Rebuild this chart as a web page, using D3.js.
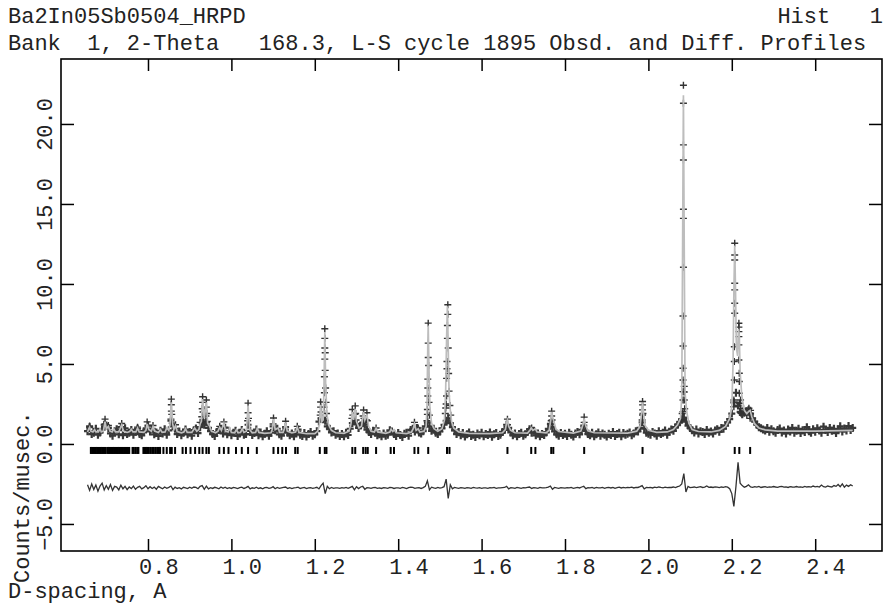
<!DOCTYPE html>
<html>
<head>
<meta charset="utf-8">
<script src="https://cdn.jsdelivr.net/npm/d3@7"></script>
<style>
body { margin: 0; background: #fff; }
svg text { font-family: "Liberation Mono", "DejaVu Sans Mono", monospace; font-size: 22px; fill: #222; white-space: pre; }
</style>
</head>
<body>
<svg width="887" height="616"></svg>
<script>
// labels
const titleLeft = "Ba2In05Sb0504_HRPD";
const titleRight = "Hist   1";
const subtitle = "Bank  1, 2-Theta   168.3, L-S cycle 1895 Obsd. and Diff. Profiles";
const xLabel = "D-spacing, A";
const yLabel = "Counts/musec.";
const xTicks = [0.8, 1.0, 1.2, 1.4, 1.6, 1.8, 2.0, 2.2, 2.4];
const yTicks = [-5, 0, 5, 10, 15, 20];

// observed scan, one reading every 0.005 A from 0.655 A
const scanStart = 0.655, scanStep = 0.005;
const obsScan = [
  0.80,1.05,0.62,0.70,0.95,0.58,0.72,0.90,1.20,1.15,
  1.00,0.66,0.52,0.80,0.92,0.60,1.05,0.55,0.98,0.62,
  0.70,0.88,0.58,0.76,0.95,0.62,0.54,0.80,0.90,1.15,
  0.78,0.95,0.60,0.72,0.50,0.82,0.66,0.92,0.58,0.85,
  1.45,1.10,0.95,0.62,0.78,0.55,0.70,0.90,0.60,0.74,
  0.52,0.86,0.96,0.68,1.05,1.30,1.20,1.35,1.00,0.80,
  0.62,0.50,0.74,0.88,0.95,0.66,1.02,0.60,0.78,0.55,
  0.70,0.82,0.50,0.66,0.88,0.58,0.62,1.20,0.82,0.56,
  0.68,0.90,0.55,0.72,0.48,0.64,0.80,0.52,0.70,1.10,
  0.85,0.95,0.60,0.52,0.78,1.05,0.70,0.55,0.66,0.48,
  0.72,0.90,0.58,0.50,0.68,0.46,0.62,0.74,0.52,0.60,
  0.80,1.40,1.60,1.55,1.45,1.10,0.95,0.72,0.80,0.58,
  0.66,0.50,0.62,0.48,0.70,0.56,0.95,1.30,1.40,1.25,
  1.00,1.15,1.30,1.20,0.90,0.75,0.62,0.82,0.70,0.55,
  0.60,0.48,0.66,0.52,0.58,0.85,0.78,0.62,0.50,0.68,
  0.56,0.44,0.64,0.70,0.52,0.88,0.95,0.78,1.00,0.72,
  0.66,0.80,1.10,1.35,1.10,0.82,0.95,0.70,0.62,0.78,
  0.98,1.20,1.45,1.60,1.30,1.05,0.85,0.62,0.74,0.55,
  0.68,0.46,0.60,0.72,0.50,0.58,0.44,0.66,0.54,0.70,
  0.48,0.62,0.56,0.72,0.45,0.60,0.68,0.50,0.58,0.74,
  0.88,1.20,1.00,0.72,0.55,0.66,0.48,0.62,0.70,0.52,
  0.60,0.75,0.92,0.70,0.82,0.54,0.66,0.48,0.62,0.56,
  0.72,0.95,1.25,1.05,0.78,0.60,0.52,0.68,0.56,0.64,
  0.50,0.70,0.58,0.46,0.66,0.74,0.60,0.88,1.15,0.82,
  0.62,0.54,0.70,0.48,0.60,0.72,0.52,0.66,0.58,0.46,
  0.64,0.56,0.74,0.50,0.62,0.70,0.48,0.68,0.58,0.64,
  0.72,0.55,0.66,0.80,0.78,1.00,1.35,0.95,0.70,0.64,
  0.58,0.74,0.66,0.52,0.80,0.62,0.70,0.84,0.58,0.76,
  0.90,0.82,1.05,1.20,1.35,1.55,1.65,1.40,1.15,1.00,
  0.86,0.72,0.90,0.66,0.80,0.74,0.62,0.88,0.70,0.78,
  0.66,0.84,0.92,0.76,1.00,0.95,1.15,1.35,1.55,1.90,
  2.60,3.20,2.40,2.00,1.85,1.95,2.05,2.10,1.90,1.60,
  1.40,1.20,1.05,0.98,0.90,0.84,1.00,0.76,0.92,0.80,
  0.70,0.88,0.96,0.72,0.84,0.66,0.90,0.78,1.00,0.70,
  0.82,0.95,0.68,0.86,0.74,1.05,0.80,0.70,0.92,0.76,
  0.98,0.84,0.70,1.08,0.88,0.74,1.00,0.82,0.95,0.68,
  0.90,1.10,0.78,0.96,0.84,1.12,0.88,1.00
];

// difference (obs - calc) on the same scan points
const diffScan = [
  0.20,-0.15,0.25,-0.10,0.18,-0.20,0.12,0.30,-0.12,0.15,
  -0.08,0.22,-0.15,0.10,0.05,-0.12,0.18,-0.05,0.10,-0.10,
  0.06,-0.04,0.12,-0.08,0.04,0.10,-0.06,0.02,0.14,-0.05,
  0.08,-0.03,0.05,-0.08,0.10,0.02,-0.05,0.06,-0.02,0.04,
  0.12,-0.10,0.05,-0.03,0.02,-0.06,0.04,0.00,-0.04,0.05,
  -0.02,0.06,0.03,-0.05,0.10,0.15,-0.08,0.12,-0.06,0.02,
  -0.03,0.04,0.00,-0.05,0.06,-0.02,0.05,-0.04,0.02,-0.03,
  0.03,0.00,-0.04,0.02,0.05,-0.03,0.02,0.10,-0.06,0.01,
  -0.02,0.05,-0.03,0.01,-0.05,0.02,0.04,-0.02,0.00,0.08,
  -0.05,0.03,-0.02,0.01,0.04,0.06,-0.03,0.02,-0.04,0.00,
  0.02,0.05,-0.03,0.00,0.03,-0.04,0.01,0.02,-0.02,0.00,
  0.04,-0.06,0.15,0.30,-0.35,0.10,-0.05,0.03,-0.02,0.01,
  0.00,-0.03,0.02,-0.01,0.03,-0.02,0.04,0.10,-0.12,0.08,
  -0.04,0.06,0.10,-0.08,0.02,0.00,-0.03,0.02,0.04,-0.02,
  0.01,-0.03,0.02,0.00,-0.02,0.04,0.02,-0.03,0.01,0.00,
  -0.02,0.03,0.00,-0.04,0.02,0.05,0.03,-0.02,0.00,0.02,
  -0.03,0.02,0.10,0.45,-0.12,0.05,0.00,-0.02,0.03,-0.01,
  0.02,0.08,0.55,-0.65,0.20,-0.05,0.03,0.00,-0.02,0.02,
  0.00,-0.03,0.02,0.01,-0.02,0.03,0.00,-0.01,0.02,-0.02,
  0.01,0.00,-0.03,0.02,0.00,0.03,-0.02,0.01,0.00,0.02,
  0.03,0.10,-0.06,0.02,0.00,-0.02,0.03,0.01,-0.02,0.02,
  0.00,0.03,0.06,-0.03,0.02,0.00,-0.02,0.03,0.01,0.00,
  0.02,0.05,0.12,-0.08,0.03,0.00,-0.02,0.02,0.01,-0.01,
  0.02,0.00,0.03,-0.02,0.01,0.04,0.00,0.06,0.10,-0.04,
  0.02,0.00,0.03,-0.02,0.04,0.01,0.00,0.03,-0.02,0.02,
  0.03,0.00,0.04,-0.02,0.02,0.05,0.00,0.03,0.01,0.04,
  0.02,0.05,0.00,0.04,0.03,0.08,0.15,-0.06,0.03,0.02,
  0.04,0.00,0.05,0.02,0.06,0.03,0.01,0.05,0.02,0.04,
  0.03,0.06,0.02,0.08,0.12,0.25,0.90,-0.25,0.10,0.02,
  0.04,0.06,0.02,0.05,0.08,0.03,0.05,0.12,0.04,0.06,
  0.03,0.07,0.05,0.02,0.06,0.04,0.08,0.05,-0.05,-0.35,
  -1.15,0.10,1.60,0.30,0.15,0.05,0.10,0.20,0.06,0.04,
  0.08,0.05,0.10,0.03,0.06,0.08,0.04,0.07,0.05,0.09,
  0.06,0.04,0.08,0.10,0.05,0.07,0.03,0.08,0.06,0.05,
  0.09,0.05,0.07,0.04,0.10,0.06,0.08,0.05,0.12,0.07,
  0.10,0.06,0.18,0.08,0.05,0.12,0.09,0.06,0.15,0.10,
  0.22,0.08,0.25,0.05,0.18,0.10,0.20,0.12
];
const diffOffset = -2.75;

// observed readings on the peak flanks [d, counts]
const obsPeaks = [
  [0.660,1.12],[0.697,1.55],[0.697,1.25],[0.705,1.15],[0.737,1.28],[0.775,1.05],[0.798,1.38],[0.812,1.15],
  [0.855,1.55],[0.856,2.05],[0.856,2.45],[0.856,2.80],[0.857,1.85],[0.858,1.30],
  [0.866,1.20],[0.925,1.35],[0.929,1.70],[0.930,2.20],[0.931,2.60],[0.931,2.95],[0.932,2.00],[0.933,1.50],
  [0.939,1.75],[0.940,2.30],[0.940,2.75],[0.941,1.90],[0.942,1.40],
  [0.972,1.10],[0.982,1.38],[1.039,1.45],[1.040,1.95],[1.040,2.55],[1.041,1.60],
  [1.100,1.25],[1.101,1.62],[1.130,1.42],[1.158,1.10],
  [1.213,1.80],[1.214,2.30],[1.214,2.62],[1.215,2.00],
  [1.222,2.30],[1.223,3.20],[1.223,4.20],[1.224,5.30],[1.224,6.00],[1.224,6.60],[1.224,7.20],
  [1.225,5.70],[1.225,4.60],[1.226,3.50],[1.227,2.60],[1.228,1.90],
  [1.289,1.60],[1.290,2.15],[1.291,1.80],[1.296,1.85],[1.297,2.38],[1.298,1.90],[1.299,1.50],
  [1.316,1.75],[1.317,2.12],[1.318,1.60],[1.324,1.50],[1.325,1.95],[1.326,1.45],
  [1.347,1.00],[1.439,1.35],[1.448,1.00],
  [1.469,1.45],[1.470,1.85],[1.470,2.15],[1.471,3.00],[1.471,3.50],[1.471,4.05],[1.472,5.40],
  [1.472,6.30],[1.472,7.55],[1.473,4.90],[1.474,2.60],[1.475,1.80],
  [1.513,1.90],[1.514,2.25],[1.515,2.50],[1.516,3.00],[1.516,4.10],[1.517,4.70],[1.517,5.15],
  [1.518,6.60],[1.518,7.40],[1.519,8.10],[1.519,8.70],[1.520,6.00],[1.521,4.40],[1.522,3.30],
  [1.524,2.40],[1.526,1.80],
  [1.662,1.20],[1.662,1.55],[1.720,1.00],[1.767,1.45],[1.768,1.75],[1.768,2.05],[1.769,1.50],
  [1.846,1.35],[1.846,1.68],
  [1.985,1.50],[1.986,1.81],[1.986,2.13],[1.986,2.44],[1.986,2.65],[1.987,1.90],
  [2.080,1.50],[2.081,1.90],[2.083,2.02],[2.083,2.75],[2.083,3.27],[2.083,4.00],[2.083,4.73],
  [2.083,6.12],[2.083,8.00],[2.084,11.04],[2.084,14.10],[2.084,14.67],[2.084,17.75],[2.084,18.69],
  [2.084,21.29],[2.084,22.42],[2.086,3.60],[2.086,3.25],[2.086,2.75],[2.087,2.20],
  [2.205,2.33],[2.205,2.75],[2.206,4.00],[2.206,5.15],[2.206,6.08],[2.207,8.17],[2.207,8.79],
  [2.207,9.63],[2.207,10.04],[2.207,11.50],[2.207,11.81],[2.207,12.54],
  [2.217,7.54],[2.217,7.30],[2.217,7.02],[2.217,6.71],[2.217,6.19],[2.217,5.25],[2.218,4.42],
  [2.218,3.90],[2.218,3.17],[2.219,2.54],
  [2.221,2.75],[2.221,2.23],[2.222,1.92],[2.228,2.20],[2.236,1.80],[2.241,2.23],[2.242,1.92],
  [2.244,1.60],[2.245,2.10]
];

// calculated profile [d, counts]
const calcProfile = [
  [0.655,0.75],[0.658,0.95],[0.660,1.05],[0.663,0.80],[0.668,0.75],[0.672,0.90],[0.675,0.75],
  [0.681,0.75],[0.685,0.95],[0.688,0.75],[0.693,0.80],[0.697,1.40],[0.700,0.95],[0.705,1.10],
  [0.709,0.80],[0.714,0.75],[0.718,0.95],[0.722,0.75],[0.730,0.75],[0.737,1.20],[0.741,0.80],
  [0.750,0.72],[0.756,0.78],[0.760,0.92],[0.764,0.75],[0.771,0.75],[0.775,1.00],[0.779,0.75],
  [0.790,0.72],[0.795,0.85],[0.798,1.25],[0.802,0.90],[0.808,0.80],[0.812,1.10],[0.816,0.80],
  [0.825,0.72],[0.830,0.90],[0.834,0.72],[0.841,0.75],[0.845,1.00],[0.850,0.85],[0.853,1.30],
  [0.856,2.60],[0.859,1.30],[0.862,0.90],[0.866,1.15],[0.870,0.78],[0.880,0.70],[0.886,0.75],
  [0.890,0.95],[0.894,0.72],[0.905,0.72],[0.912,1.00],[0.917,0.80],[0.922,0.90],[0.925,1.25],
  [0.928,1.40],[0.931,2.80],[0.935,1.60],[0.940,2.60],[0.943,1.30],[0.948,1.10],[0.952,0.80],
  [0.962,0.70],[0.968,0.80],[0.972,1.05],[0.976,0.85],[0.982,1.30],[0.986,0.80],[0.992,0.75],
  [0.996,1.00],[1.000,0.72],[1.008,0.70],[1.012,0.90],[1.016,0.70],[1.022,0.72],[1.026,0.95],
  [1.030,0.72],[1.036,0.80],[1.040,2.40],[1.044,0.90],[1.050,0.70],[1.058,0.72],[1.062,1.00],
  [1.066,0.72],[1.080,0.66],[1.095,0.70],[1.098,0.90],[1.101,1.55],[1.105,0.90],[1.112,1.00],
  [1.116,0.72],[1.124,0.72],[1.127,0.95],[1.130,1.35],[1.134,0.80],[1.145,0.70],[1.154,0.75],
  [1.158,1.05],[1.162,0.72],[1.180,0.64],[1.200,0.65],[1.207,0.80],[1.211,1.20],[1.214,2.45],
  [1.217,1.40],[1.220,1.50],[1.222,3.50],[1.224,7.00],[1.226,3.80],[1.229,1.90],[1.233,1.20],
  [1.240,0.85],[1.250,0.70],[1.270,0.66],[1.282,0.80],[1.287,1.30],[1.290,2.00],[1.293,1.50],
  [1.297,2.20],[1.300,1.40],[1.306,1.00],[1.312,1.10],[1.317,2.00],[1.320,1.50],[1.325,1.85],
  [1.329,1.10],[1.335,0.80],[1.343,0.75],[1.347,0.98],[1.351,0.75],[1.370,0.66],[1.380,0.75],
  [1.383,0.92],[1.387,0.78],[1.391,0.88],[1.395,0.70],[1.420,0.65],[1.432,0.75],[1.436,0.95],
  [1.439,1.25],[1.443,0.85],[1.448,0.95],[1.452,0.75],[1.462,0.80],[1.467,1.10],[1.469,2.20],
  [1.471,6.20],[1.472,7.40],[1.474,4.50],[1.476,2.30],[1.480,1.30],[1.486,0.95],[1.495,0.80],
  [1.505,0.95],[1.511,1.50],[1.514,3.50],[1.516,6.50],[1.518,8.60],[1.520,6.00],[1.522,3.20],
  [1.525,2.10],[1.528,1.40],[1.533,1.00],[1.545,0.75],[1.570,0.66],[1.620,0.65],[1.650,0.70],
  [1.657,0.90],[1.660,1.35],[1.662,1.50],[1.665,1.10],[1.670,0.85],[1.680,0.70],[1.710,0.68],
  [1.716,0.85],[1.719,1.00],[1.723,0.85],[1.729,0.95],[1.733,0.75],[1.755,0.70],[1.762,0.85],
  [1.766,1.50],[1.768,2.00],[1.771,1.60],[1.774,1.35],[1.778,0.95],[1.785,0.78],[1.820,0.68],
  [1.838,0.80],[1.843,1.20],[1.846,1.60],[1.849,1.20],[1.855,0.82],[1.870,0.70],[1.950,0.68],
  [1.972,0.80],[1.980,1.10],[1.984,2.00],[1.986,2.60],[1.988,2.00],[1.992,1.15],[2.000,0.85],
  [2.020,0.72],[2.045,0.75],[2.060,0.90],[2.070,1.20],[2.077,1.60],[2.080,3.00],[2.082,12.00],
  [2.084,21.80],[2.086,12.00],[2.088,3.20],[2.092,2.00],[2.097,1.30],[2.105,0.90],[2.120,0.78],
  [2.150,0.75],[2.170,0.85],[2.185,1.10],[2.195,1.60],[2.200,2.30],[2.203,5.00],[2.205,9.50],
  [2.207,12.40],[2.209,9.50],[2.211,6.00],[2.214,5.50],[2.216,7.20],[2.218,6.80],[2.220,4.50],
  [2.224,3.00],[2.230,2.10],[2.236,1.90],[2.241,2.05],[2.244,2.10],[2.248,1.70],[2.255,1.25],
  [2.265,1.00],[2.280,0.88],[2.310,0.80],[2.400,0.80],[2.490,0.85]
];

// reflection positions
const reflections = [
  0.663,0.666,0.669,0.672,0.675,0.678,0.681,0.684,0.687,0.690,0.693,0.696,0.699,
  0.704,0.707,0.710,0.713,0.716,0.719,0.722,0.725,0.728,0.731,0.734,0.737,0.740,0.743,
  0.746,0.749,0.752,0.755,0.763,0.766,0.770,0.774,0.777,
  0.789,0.792,0.795,0.798,0.802,0.806,0.810,0.814,0.818,0.822,0.826,0.829,
  0.837,0.845,0.853,0.857,0.865,0.883,0.891,0.902,0.913,0.923,0.931,0.940,0.946,
  0.971,0.982,0.993,1.011,1.025,1.040,1.061,1.101,1.112,1.122,1.131,1.153,1.159,
  1.212,1.224,1.228,1.290,1.297,1.316,1.322,1.327,1.347,1.382,1.390,1.439,1.448,
  1.472,1.517,1.523,1.662,1.719,1.729,1.767,1.772,1.846,1.986,2.084,2.207,2.218,2.244
];

const svg = d3.select("svg");
const box = {left: 61, right: 882, top: 59, bottom: 551};

const x = d3.scaleLinear().domain([0.5914, 2.5602]).range([box.left, box.right]);
const y = d3.scaleLinear().domain([-6.69, 24.06]).range([box.bottom, box.top]);
const fmt = d3.format(".1f");

svg.append("defs").append("clipPath").attr("id", "plot")
  .append("rect").attr("x", box.left).attr("y", box.top)
  .attr("width", box.right - box.left).attr("height", box.bottom - box.top);

const plot = svg.append("g").attr("clip-path", "url(#plot)");

const scan = obsScan.map((v, i) => [scanStart + i * scanStep, v]);
const diff = diffScan.map((v, i) => [scanStart + i * scanStep, v + diffOffset]);

// observed as "+" markers; the scan is dense, so its crosses merge into a band
plot.append("g")
  .selectAll("path")
  .data(scan)
  .join("path")
    .attr("transform", d => `translate(${x(d[0])},${y(d[1])})`)
    .attr("d", "M-3.5,0H3.5M0,-4V4")
    .attr("stroke", "#383838")
    .attr("stroke-width", 2.2)
    .attr("fill", "none");

plot.append("g")
  .selectAll("path")
  .data(obsPeaks)
  .join("path")
    .attr("transform", d => `translate(${x(d[0])},${y(d[1])})`)
    .attr("d", "M-3.5,0H3.5M0,-3.5V3.5")
    .attr("stroke", "#333")
    .attr("stroke-width", 1.4)
    .attr("fill", "none");

// calculated profile
plot.append("path")
  .datum(calcProfile)
  .attr("fill", "none")
  .attr("stroke", "#bdbdbd")
  .attr("stroke-width", 1.7)
  .attr("d", d3.line().x(d => x(d[0])).y(d => y(d[1])));

// reflection ticks
plot.append("g")
  .selectAll("line")
  .data(reflections)
  .join("line")
    .attr("x1", d => x(d)).attr("x2", d => x(d))
    .attr("y1", y(0) + 3).attr("y2", y(0) + 10)
    .attr("stroke", "#000")
    .attr("stroke-width", 2);

// difference curve
plot.append("path")
  .datum(diff)
  .attr("fill", "none")
  .attr("stroke", "#333")
  .attr("stroke-width", 1.3)
  .attr("d", d3.line().x(d => x(d[0])).y(d => y(d[1])));

// axes, ticks point inwards on all four sides
const tickStyle = g => {
  g.select(".domain").remove();
  g.selectAll(".tick line").attr("stroke", "#000").attr("stroke-width", 1.5);
};

svg.append("g")
  .attr("transform", `translate(0,${box.bottom})`)
  .call(d3.axisBottom(x).tickValues(xTicks).tickSize(-12).tickFormat(fmt))
  .call(tickStyle)
  .call(g => g.selectAll(".tick text")
    .attr("text-anchor", "start").attr("x", -9.5).attr("y", 23).attr("dy", 0));

svg.append("g")
  .attr("transform", `translate(0,${box.top})`)
  .call(d3.axisTop(x).tickValues(xTicks).tickSize(-12).tickFormat(""))
  .call(tickStyle);

svg.append("g")
  .attr("transform", `translate(${box.left},0)`)
  .call(d3.axisLeft(y).tickValues(yTicks).tickSize(-13).tickFormat(fmt))
  .call(tickStyle)
  .call(g => g.selectAll(".tick text")
    .attr("transform", "rotate(-90)").attr("text-anchor", "middle")
    .attr("x", 0).attr("y", -9).attr("dy", 0));

svg.append("g")
  .attr("transform", `translate(${box.right},0)`)
  .call(d3.axisRight(y).tickValues(yTicks).tickSize(-13).tickFormat(""))
  .call(tickStyle);

svg.append("rect")
  .attr("x", box.left).attr("y", box.top)
  .attr("width", box.right - box.left).attr("height", box.bottom - box.top)
  .attr("fill", "none").attr("stroke", "#000").attr("stroke-width", 1.6);

// titles and axis labels
svg.append("text").attr("x", 8).attr("y", 23).text(titleLeft);
svg.append("text").attr("x", 883).attr("y", 23).attr("text-anchor", "end").text(titleRight);
svg.append("text").attr("x", 8).attr("y", 50).text(subtitle);
svg.append("text").attr("x", 8).attr("y", 598).text(xLabel);
svg.append("text")
  .attr("transform", "translate(29,583) rotate(-90)")
  .text(yLabel);
</script>
</body>
</html>
